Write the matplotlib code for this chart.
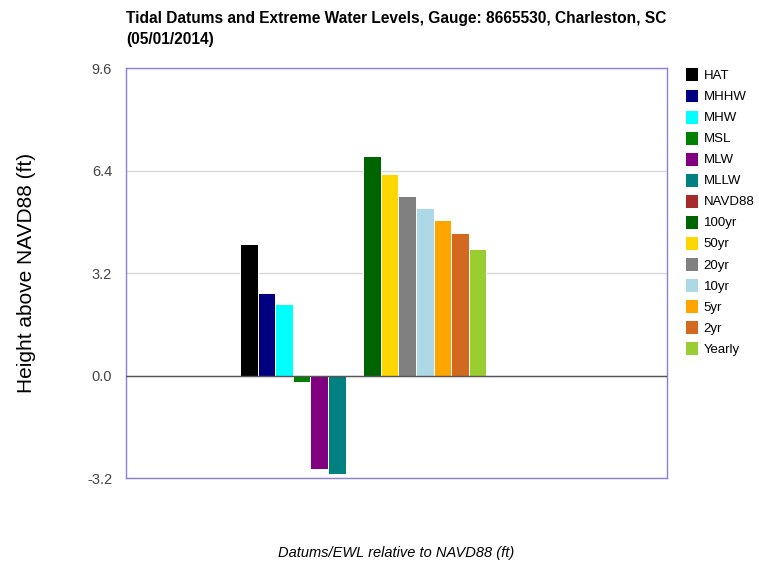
import matplotlib.pyplot as plt

plt.rcParams['font.family'] = ['Liberation Sans', 'DejaVu Sans']

labels = ["HAT", "MHHW", "MHW", "MSL", "MLW", "MLLW", "NAVD88",
          "100yr", "50yr", "20yr", "10yr", "5yr", "2yr", "Yearly"]
values = [4.10, 2.59, 2.24, -0.19, -2.91, -3.07, 0.0,
          6.86, 6.28, 5.61, 5.24, 4.85, 4.44, 3.94]
colors = ["#000000", "#000080", "#00ffff", "#008000", "#800080", "#008080", "#a52a2a",
          "#006400", "#ffd700", "#808080", "#add8e6", "#ffa500", "#d2691e", "#9acd32"]
yticks = [-3.2, 0.0, 3.2, 6.4, 9.6]

fig = plt.figure(figsize=(7.59, 5.62), dpi=100)
ax = fig.add_axes([0.166, 0.149, 0.713, 0.730])

handles = []
for i, (lab, v, c) in enumerate(zip(labels, values, colors)):
    b = ax.bar(i, v, width=1.0, color=c, edgecolor="white", linewidth=0.7,
               label=lab, zorder=3)
    handles.append(b)

ax.set_xlim(-6.98, 23.78)
ax.set_ylim(-3.2, 9.6)
ax.set_yticks(yticks)
ax.set_yticklabels([f"{t:.1f}" for t in yticks], color="#444444", fontsize=10.5)
ax.tick_params(axis="y", length=0, pad=10)
ax.set_xticks([])
ax.grid(axis="y", color="#d9d9d9", linewidth=1, zorder=0)
ax.axhline(0, color="#555555", linewidth=1, zorder=4)
for s in ax.spines.values():
    s.set_color("#8c7fe0")
    s.set_linewidth(1)

ax.set_ylabel("Height above NAVD88 (ft)", fontsize=15, labelpad=37)
ax.set_xlabel("Datums/EWL relative to NAVD88 (ft)", fontsize=10.5, style="italic",
              labelpad=49)

fig.text(0.166, 0.98, "Tidal Datums and Extreme Water Levels, Gauge: 8665530, Charleston, SC\n(05/01/2014)",
         fontsize=11.2, fontweight="bold", va="top", ha="left", linespacing=1.5)

leg = fig.legend(handles=handles, labels=labels, loc="upper left",
                 bbox_to_anchor=(0.902, 0.88), frameon=False, fontsize=9.5,
                 handlelength=1.0, handleheight=1.25, handletextpad=0.45,
                 labelspacing=0.505, borderaxespad=0, borderpad=0)

fig.savefig("out.png", dpi=100)
